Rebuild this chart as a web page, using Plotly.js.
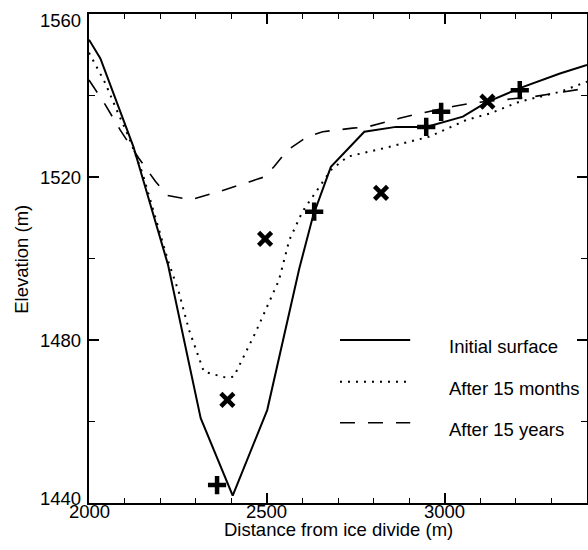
<!DOCTYPE html>
<html>
<head>
<meta charset="utf-8">
<script src="https://cdn.plot.ly/plotly-3.0.1.min.js"></script>
<style>html,body{margin:0;padding:0;background:#fff;}#chart{width:588px;height:550px;}</style>
</head>
<body>
<div id="chart"></div>
<script>
// Series names (legend)
const seriesNames = ["Initial surface", "After 15 months", "After 15 years"];

// Initial surface
const initialX = [2000, 2032, 2125, 2222, 2314, 2404, 2501, 2591, 2630, 2680, 2774, 2863, 2948, 3051, 3117, 3211, 3324, 3400];
const initialY = [1553.7, 1549.1, 1527.4, 1498.5, 1460.8, 1441.8, 1462.8, 1497.5, 1510.5, 1522.5, 1531.1, 1532.3, 1532.3, 1534.8, 1538.3, 1541.8, 1545.4, 1547.5];

// After 15 months
const monthsX = [2000, 2046, 2078, 2111, 2150, 2191, 2222, 2252, 2281, 2323, 2384, 2407, 2469, 2534, 2563, 2600, 2647, 2680, 2727, 2826, 2957, 3061, 3127, 3211, 3324, 3400];
const monthsY = [1550.5, 1543.0, 1536.4, 1530.0, 1521.0, 1508.6, 1499.5, 1491.9, 1482.5, 1472.2, 1470.8, 1471.0, 1482.0, 1494.7, 1504.5, 1511.5, 1517.6, 1521.7, 1525.0, 1527.0, 1529.9, 1534.0, 1535.6, 1538.5, 1540.9, 1543.4];

// After 15 years
const yearsX = [2000, 2046, 2088, 2140, 2187, 2220, 2285, 2365, 2450, 2492, 2520, 2558, 2614, 2657, 2741, 2783, 2873, 2910, 3023, 3080, 3249, 3305, 3400];
const yearsY = [1543.8, 1537.7, 1531.5, 1524.6, 1518.9, 1515.5, 1514.4, 1516.4, 1518.8, 1520.0, 1522.5, 1526.6, 1529.9, 1531.1, 1532.0, 1532.3, 1534.4, 1535.2, 1537.3, 1538.2, 1539.7, 1540.5, 1541.8];

// Measured points (+)
const plusX = [2360, 2633, 2948, 2990, 3211];
const plusY = [1444.4, 1511.5, 1532.3, 1536.0, 1541.3];

// Measured points (x)
const crossX = [2389, 2495, 2821, 3120];
const crossY = [1465.3, 1504.8, 1516.1, 1538.5];

// Axis ticks and titles
const xTicks = [2000, 2500, 3000];
const yTicks = [1440, 1480, 1520, 1560];
const xTitle = "Distance from ice divide (m)";
const yTitle = "Elevation (m)";

const FONT = "'Liberation Sans', Arial, Helvetica, sans-serif";
const FS = 18.5;
const TXT = {family: FONT, size: FS, color: "#000"};
const lineStyles = [
  {color: "#000", width: 2},
  {color: "#000", width: 2, dash: "2px,6px"},
  {color: "#000", width: 1.6, dash: "15px,13px"}
];

const traces = [
  {x: initialX, y: initialY, mode: "lines", name: seriesNames[0], line: lineStyles[0]},
  {x: monthsX, y: monthsY, mode: "lines", name: seriesNames[1], line: lineStyles[1]},
  {x: yearsX, y: yearsY, mode: "lines", name: seriesNames[2], line: lineStyles[2]},
  {x: plusX, y: plusY, mode: "markers", name: "plus",
   marker: {symbol: "cross-thin", size: 13, color: "#000", line: {color: "#000", width: 4.5}}},
  {x: crossX, y: crossY, mode: "markers", name: "cross",
   marker: {symbol: "x-thin", size: 13, color: "#000", line: {color: "#000", width: 4.5}}}
];

// Legend drawn manually
const legendLineY = [0.3333, 0.248, 0.164];
const legendTextY = [0.320, 0.235, 0.151];
const shapes = [];
const annotations = [];
seriesNames.forEach((nm, i) => {
  shapes.push({type: "line", xref: "paper", yref: "paper",
    x0: 0.504, x1: 0.645, y0: legendLineY[i], y1: legendLineY[i], line: lineStyles[i]});
  annotations.push({xref: "paper", yref: "paper", x: 0.719, y: legendTextY[i],
    xanchor: "left", yanchor: "middle", showarrow: false, text: nm, font: TXT});
});
// Tick labels (placed on the axes' own scales)
xTicks.forEach(v => annotations.push({xref: "x", yref: "paper", x: v, y: -0.0184,
  xanchor: "center", yanchor: "middle", showarrow: false, text: String(v), font: TXT}));
yTicks.forEach((v, i) => annotations.push({xref: "paper", yref: "y", x: -0.012, y: v,
  xanchor: "right", yanchor: "middle", showarrow: false, text: String(v), font: TXT,
  yshift: i === 0 ? 5 : (i === yTicks.length - 1 ? -6.5 : 0)}));
// Axis titles
annotations.push({xref: "paper", yref: "paper", x: 0.5, y: -0.0545, xanchor: "center", yanchor: "middle",
  showarrow: false, text: xTitle, font: TXT});
annotations.push({xref: "paper", yref: "paper", x: -0.135, y: 0.499, xanchor: "center", yanchor: "middle",
  showarrow: false, textangle: -90, text: yTitle, font: TXT});

const axisCommon = {
  showline: true, linecolor: "#000", linewidth: 1.5, mirror: "allticks",
  ticks: "inside", ticklen: 10, tickwidth: 1.5, tickcolor: "#000",
  showgrid: false, zeroline: false, showticklabels: false
};

const layout = {
  width: 588, height: 550,
  margin: {l: 89, r: 1, t: 14, b: 47},
  paper_bgcolor: "#fff", plot_bgcolor: "#fff",
  showlegend: false,
  font: {family: FONT, color: "#000"},
  xaxis: Object.assign({}, axisCommon, {
    range: [2000, 3400], tickmode: "array", tickvals: xTicks,
    minor: {ticks: "inside", ticklen: 5, tickwidth: 1.3, tickcolor: "#000", dtick: 100, tick0: 2000, showgrid: false}
  }),
  yaxis: Object.assign({}, axisCommon, {
    range: [1440, 1560], tickmode: "array", tickvals: yTicks,
    minor: {ticks: "inside", ticklen: 6, tickwidth: 1.3, tickcolor: "#000", dtick: 20, tick0: 1440, showgrid: false}
  }),
  shapes: shapes,
  annotations: annotations
};

Plotly.newPlot("chart", traces, layout, {displayModeBar: false});
</script>
</body>
</html>
